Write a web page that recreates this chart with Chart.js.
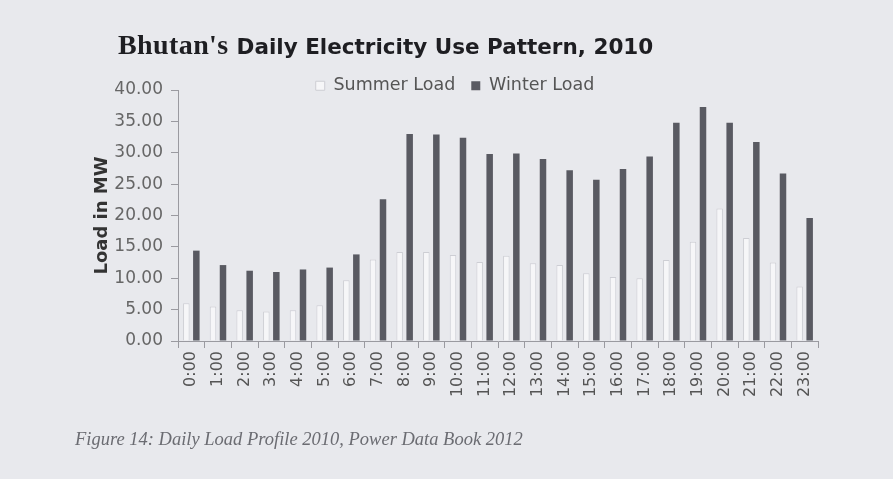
<!DOCTYPE html>
<html><head><meta charset="utf-8">
<script src="https://cdn.jsdelivr.net/npm/chart.js@4.4.1/dist/chart.umd.min.js"></script>
<style>
html,body{margin:0;padding:0;background:#e8e9ed;}
#wrap{position:relative;width:893px;height:479px;overflow:hidden;background:#e8e9ed;}
#c{position:absolute;left:0;top:0;width:893px;height:479px;}
#title{position:absolute;left:118px;top:30px;white-space:nowrap;color:#1e1e22;line-height:30px;}
#title .a{font-family:"Liberation Serif";font-weight:bold;font-size:28px;letter-spacing:0.4px;}
#title .b{font-family:"DejaVu Sans";font-weight:bold;font-size:21.5px;margin-left:8px;}
#cap{position:absolute;left:75px;top:428px;line-height:22px;font-family:"Liberation Serif";font-style:italic;font-size:18.5px;color:#6b6c72;white-space:nowrap;}
</style></head>
<body><div id="wrap"><canvas id="c" width="893" height="479"></canvas>
<div id="title"><span class="a">Bhutan's</span><span class="b">Daily Electricity Use Pattern, 2010</span></div>
<div id="cap">Figure 14: Daily Load Profile 2010, Power Data Book 2012</div></div>
<script>
const categories = ['0:00','1:00','2:00','3:00','4:00','5:00','6:00','7:00','8:00','9:00','10:00','11:00','12:00','13:00','14:00','15:00','16:00','17:00','18:00','19:00','20:00','21:00','22:00','23:00'];
const summerLoad = [6.0, 5.5, 4.9, 4.7, 4.9, 5.7, 9.7, 13.0, 14.2, 14.2, 13.7, 12.6, 13.6, 12.4, 12.1, 10.8, 10.2, 10.0, 12.9, 15.8, 21.1, 16.4, 12.5, 8.7];
const winterLoad = [14.4, 12.1, 11.2, 11.0, 11.4, 11.7, 13.8, 22.6, 33.0, 32.9, 32.4, 29.8, 29.9, 29.0, 27.2, 25.7, 27.4, 29.4, 34.8, 37.3, 34.8, 31.7, 26.7, 19.6];
const yTickLabels = ['0.00','5.00','10.00','15.00','20.00','25.00','30.00','35.00','40.00'];

// Legend overlays the plot (takes no layout space) and sits just above the 40.00 line
const legendOverlay = {
  id: 'legendOverlay',
  beforeUpdate(chart) {
    const l = chart.legend;
    if (l && !l._overlay) {
      const fit = l.fit.bind(l);
      l.fit = function() { fit(); this._realH = this.height; this.height = 0; };
      l._overlay = true;
    }
  },
  afterLayout(chart) {
    const l = chart.legend; if (!l) return;
    const dx = 0, dy = -29;
    l.left += dx; l.right += dx; l.top += dy;
    l.height = l._realH || 40;
    l.bottom = l.top + l.height;
  }
};

new Chart(document.getElementById('c'), {
  type: 'bar',
  data: {
    labels: categories,
    datasets: [
      {label: 'Summer Load', data: summerLoad, backgroundColor: '#f6f6f8', borderColor: '#cdced4', borderWidth: 1, categoryPercentage: 0.75, barPercentage: 0.65},
      {label: 'Winter Load', data: winterLoad, backgroundColor: '#595a62', borderWidth: 0, categoryPercentage: 0.75, barPercentage: 0.65}
    ]
  },
  options: {
    responsive: false, animation: false, devicePixelRatio: 1,
    layout: {padding: {left: 92, top: 90, right: 75, bottom: 60}},
    plugins: {
      legend: {position: 'top', align: 'center',
        labels: {font: {family: 'DejaVu Sans', size: 17.5}, color: '#555', boxWidth: 9, boxHeight: 9, padding: 16}},
      title: {display: false}, tooltip: {enabled: false}
    },
    scales: {
      x: {
        grid: {display: true, drawOnChartArea: false, drawTicks: true, tickLength: 7, color: '#9a9aa0', offset: true},
        border: {color: '#9a9aa0'},
        ticks: {minRotation: 90, maxRotation: 90, autoSkip: false, padding: 3, font: {family: 'DejaVu Sans', size: 16}, color: '#555'},
        afterFit(s) { s.height = 78; }
      },
      y: {
        min: 0, max: 40,
        ticks: {stepSize: 5, callback: (v, i) => yTickLabels[i], padding: 8, font: {family: 'DejaVu Sans', size: 17}, color: '#666'},
        grid: {drawOnChartArea: false, tickLength: 7, color: '#9a9aa0'},
        border: {color: '#9a9aa0'},
        title: {display: true, text: 'Load in MW', font: {family: 'DejaVu Sans', size: 18, weight: 'bold'}, color: '#333', padding: 0},
        afterFit(s) { s.width = 86; }
      }
    }
  },
  plugins: [legendOverlay]
});
</script>
</body></html>
